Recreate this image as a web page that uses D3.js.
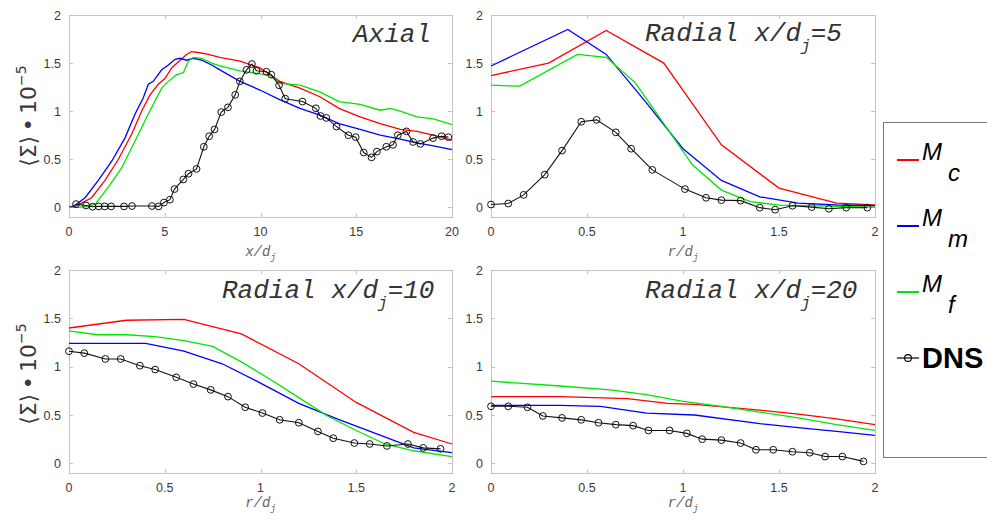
<!DOCTYPE html>
<html>
<head>
<meta charset="utf-8">
<script src="https://cdn.jsdelivr.net/npm/d3@7"></script>
<style>
  body { margin: 0; background: #fff; }
</style>
</head>
<body>
<svg id="chart" width="987" height="522"></svg>
<script>
// ---- data, [x, value] pairs ----
const axialMc = [[0,0],[0.31,0.01],[0.7,0.05],[1.18,0.1],[1.88,0.28],[2.58,0.5],[3.27,0.76],[3.79,1.0],[4.23,1.17],[4.66,1.28],[5.01,1.34],[5.36,1.45],[5.8,1.53],[6.14,1.59],[6.4,1.62],[6.75,1.61],[7.28,1.59],[7.88,1.56],[8.93,1.52],[9.97,1.45],[11.0,1.31],[12.06,1.24],[13.1,1.15],[14.1,1.03],[15.2,0.94],[16.25,0.87],[17.3,0.81],[18.17,0.79],[19.03,0.75],[20,0.70]];
const axialMm = [[0,0],[0.3,0.02],[0.84,0.10],[1.53,0.28],[2.23,0.48],[2.92,0.72],[3.45,0.97],[3.88,1.14],[4.14,1.28],[4.4,1.31],[4.84,1.43],[5.19,1.48],[5.54,1.54],[5.8,1.55],[6.14,1.53],[6.49,1.55],[6.93,1.53],[7.45,1.48],[7.88,1.43],[8.93,1.31],[9.97,1.22],[11.0,1.12],[12.06,1.03],[13.1,0.96],[14.1,0.87],[15.2,0.81],[16.25,0.75],[17.3,0.71],[18.17,0.67],[19.03,0.64],[20,0.60]];
const axialMf = [[0,0],[0.49,0.0],[0.9,0.01],[1.36,0.03],[2.05,0.21],[2.75,0.41],[3.45,0.69],[4.14,0.97],[4.84,1.24],[5.19,1.31],[5.62,1.38],[5.97,1.40],[6.23,1.52],[6.49,1.56],[6.93,1.55],[7.45,1.50],[7.88,1.47],[8.93,1.42],[9.97,1.39],[10.5,1.37],[11.0,1.29],[12.06,1.27],[13.1,1.20],[14.1,1.10],[15.2,1.07],[16.25,1.01],[16.77,1.03],[17.3,1.00],[18.17,0.94],[19.03,0.92],[20,0.86]];
const axialDns = [[0.37,0.034],[0.89,0.02],[1.23,0.007],[1.55,0.01],[1.86,0.01],[2.2,0.01],[2.87,0.01],[3.29,0.014],[4.33,0.014],[4.68,0.01],[4.96,0.05],[5.27,0.08],[5.51,0.19],[5.97,0.29],[6.24,0.35],[6.66,0.40],[7.04,0.63],[7.32,0.74],[7.6,0.81],[7.95,0.99],[8.3,1.04],[8.68,1.17],[8.92,1.31],[9.27,1.43],[9.55,1.49],[9.79,1.42],[10.31,1.41],[10.56,1.38],[10.97,1.27],[11.29,1.13],[12.19,1.10],[12.89,1.03],[13.13,0.95],[13.44,0.93],[13.97,0.84],[14.59,0.75],[14.97,0.73],[15.39,0.57],[15.8,0.52],[16.08,0.58],[16.57,0.63],[16.92,0.65],[17.17,0.75],[17.62,0.79],[17.97,0.68],[18.35,0.66],[19.01,0.72],[19.46,0.74],[19.81,0.73]];

const r5Mc = [[0,1.37],[0.3,1.50],[0.6,1.84],[0.9,1.50],[1.2,0.65],[1.5,0.2],[1.8,0.045],[2.0,0.025]];
const r5Mm = [[0,1.47],[0.4,1.85],[0.6,1.59],[0.8,1.11],[1.0,0.61],[1.2,0.28],[1.4,0.11],[1.6,0.045],[1.8,0.025],[2,0.017]];
const r5Mf = [[0,1.27],[0.15,1.26],[0.45,1.59],[0.6,1.56],[0.75,1.3],[0.9,0.87],[1.05,0.44],[1.2,0.18],[1.35,0.06],[1.5,0.024],[2,0.003]];
const r5Dns = [[0,0.03],[0.09,0.04],[0.17,0.13],[0.28,0.34],[0.37,0.59],[0.47,0.89],[0.55,0.91],[0.65,0.78],[0.73,0.61],[0.84,0.39],[1.01,0.19],[1.12,0.10],[1.2,0.075],[1.3,0.07],[1.4,-0.003],[1.48,-0.024],[1.57,0.017],[1.67,0.003],[1.76,-0.014],[1.85,-0.003],[1.96,-0.003]];

const r10Mc = [[0,1.40],[0.3,1.48],[0.6,1.49],[0.9,1.34],[1.2,1.03],[1.5,0.63],[1.8,0.32],[2,0.2]];
const r10Mm = [[0,1.24],[0.16,1.24],[0.4,1.24],[0.6,1.16],[0.8,1.03],[1.0,0.83],[1.2,0.62],[1.4,0.46],[1.6,0.31],[1.8,0.16],[2,0.11]];
const r10Mf = [[0,1.37],[0.15,1.33],[0.3,1.33],[0.45,1.31],[0.6,1.27],[0.75,1.21],[0.9,1.05],[1.05,0.87],[1.2,0.68],[1.35,0.49],[1.5,0.34],[1.65,0.2],[1.8,0.13],[2,0.07]];
const r10Dns = [[0,1.16],[0.08,1.14],[0.19,1.08],[0.27,1.08],[0.37,1.01],[0.45,0.97],[0.56,0.89],[0.65,0.82],[0.74,0.76],[0.83,0.69],[0.92,0.58],[1.01,0.52],[1.1,0.45],[1.2,0.42],[1.3,0.33],[1.38,0.26],[1.49,0.21],[1.57,0.2],[1.66,0.18],[1.77,0.2],[1.85,0.16],[1.94,0.15]];

const r20Mc = [[0,0.69],[0.36,0.69],[0.71,0.67],[0.92,0.62],[1.06,0.61],[1.4,0.55],[1.6,0.51],[1.8,0.46],[2,0.40]];
const r20Mm = [[0,0.60],[0.36,0.60],[0.57,0.59],[0.81,0.52],[1.06,0.50],[1.4,0.41],[1.6,0.37],[1.8,0.33],[2,0.29]];
const r20Mf = [[0,0.85],[0.36,0.80],[0.62,0.76],[0.81,0.71],[1.0,0.64],[1.2,0.59],[1.4,0.53],[1.6,0.47],[1.8,0.40],[2,0.34]];
const r20Dns = [[0,0.59],[0.09,0.59],[0.19,0.58],[0.27,0.49],[0.37,0.47],[0.47,0.45],[0.56,0.42],[0.65,0.40],[0.74,0.39],[0.82,0.34],[0.93,0.34],[1.02,0.31],[1.1,0.25],[1.2,0.24],[1.3,0.21],[1.38,0.14],[1.47,0.14],[1.57,0.12],[1.66,0.11],[1.74,0.07],[1.83,0.07],[1.94,0.02]];

const yTicks = [0, 0.5, 1, 1.5, 2];
const axialTicks = [0, 5, 10, 15, 20];
const radialTicks = [0, 0.5, 1, 1.5, 2];
const seriesNames = ['Mc', 'Mm', 'Mf', 'DNS'];
const legendSubs = ['c', 'm', 'f'];

const colors = {Mc: '#ff0000', Mm: '#0000ff', Mf: '#00e600', DNS: '#000'};

const svg = d3.select('#chart');

const panels = [
  {title: 'Axial', where: null, xDom: [0, 20], ticks: axialTicks, xVar: 'x',
   left: 69, right: 452, top: 15, bottom: 217, tx: 353, ty: 42, yLab: 116,
   data: {Mc: axialMc, Mm: axialMm, Mf: axialMf, DNS: axialDns}},
  {title: 'Radial x/d', where: '=5', xDom: [0, 2], ticks: radialTicks, xVar: 'r',
   left: 491, right: 875, top: 15, bottom: 217, tx: 645, ty: 41, yLab: null,
   data: {Mc: r5Mc, Mm: r5Mm, Mf: r5Mf, DNS: r5Dns}},
  {title: 'Radial x/d', where: '=10', xDom: [0, 2], ticks: radialTicks, xVar: 'r',
   left: 69, right: 452, top: 270, bottom: 473, tx: 222, ty: 298, yLab: 374,
   data: {Mc: r10Mc, Mm: r10Mm, Mf: r10Mf, DNS: r10Dns}},
  {title: 'Radial x/d', where: '=20', xDom: [0, 2], ticks: radialTicks, xVar: 'r',
   left: 491, right: 875, top: 270, bottom: 473, tx: 645, ty: 298, yLab: null,
   data: {Mc: r20Mc, Mm: r20Mm, Mf: r20Mf, DNS: r20Dns}}
];

const boxColor = '#c4c4c4';
const textColor = '#3a3a3a';

panels.forEach(p => {
  const x = d3.scaleLinear().domain(p.xDom).range([p.left, p.right]);
  const y = d3.scaleLinear().domain([-0.1, 2]).range([p.bottom, p.top]);
  const g = svg.append('g');

  // box
  g.append('rect')
    .attr('x', p.left + 0.5).attr('y', p.top + 0.5)
    .attr('width', p.right - p.left).attr('height', p.bottom - p.top)
    .attr('fill', 'none').attr('stroke', boxColor);

  // inward ticks on all four sides
  const tl = 4;
  p.ticks.forEach(t => {
    const xx = Math.round(x(t)) + 0.5;
    g.append('line').attr('x1', xx).attr('x2', xx).attr('y1', p.bottom).attr('y2', p.bottom - tl).attr('stroke', boxColor);
    g.append('line').attr('x1', xx).attr('x2', xx).attr('y1', p.top).attr('y2', p.top + tl).attr('stroke', boxColor);
    g.append('text').attr('x', x(t)).attr('y', p.bottom + 19)
      .attr('text-anchor', 'middle').attr('font-family', 'Liberation Sans, Arial, sans-serif')
      .attr('font-size', 12.5).attr('fill', textColor).text(t);
  });
  yTicks.forEach(t => {
    const yy = Math.round(y(t)) + 0.5;
    g.append('line').attr('x1', p.left).attr('x2', p.left + tl).attr('y1', yy).attr('y2', yy).attr('stroke', boxColor);
    g.append('line').attr('x1', p.right).attr('x2', p.right - tl).attr('y1', yy).attr('y2', yy).attr('stroke', boxColor);
    g.append('text').attr('x', p.left - 8).attr('y', y(t)).attr('dy', '0.36em')
      .attr('text-anchor', 'end').attr('font-family', 'Liberation Sans, Arial, sans-serif')
      .attr('font-size', 12.5).attr('fill', textColor).text(t);
  });

  // curves
  const line = d3.line().x(d => x(d[0])).y(d => y(d[1]));
  ['Mc', 'Mm', 'Mf'].forEach(k => {
    g.append('path').datum(p.data[k])
      .attr('d', line).attr('fill', 'none')
      .attr('stroke', colors[k]).attr('stroke-width', 1.3);
  });
  g.append('path').datum(p.data.DNS)
    .attr('d', line).attr('fill', 'none')
    .attr('stroke', '#111').attr('stroke-width', 1.1);
  g.selectAll('circle.dns').data(p.data.DNS).enter().append('circle')
    .attr('class', 'dns')
    .attr('cx', d => x(d[0])).attr('cy', d => y(d[1])).attr('r', 3.4)
    .attr('fill', 'none').attr('stroke', '#111').attr('stroke-width', 1);

  // title
  const tt = g.append('text').attr('x', p.tx).attr('y', p.ty)
    .attr('font-family', 'Liberation Mono, Courier New, monospace')
    .attr('font-style', 'italic').attr('font-size', 26).attr('fill', '#333');
  tt.append('tspan').text(p.title);
  if (p.where) {
    tt.append('tspan').attr('font-size', 16).attr('dy', 10).text('j');
    tt.append('tspan').attr('dy', -10).text(p.where);
  }

  // x-axis label
  const xl = g.append('text').attr('x', (p.left + p.right) / 2)
    .attr('y', p.top === 15 ? 256 : 507)
    .attr('text-anchor', 'middle')
    .attr('font-family', 'Liberation Mono, Courier New, monospace')
    .attr('font-style', 'italic').attr('font-size', 14).attr('fill', '#666');
  xl.append('tspan').text(p.xVar + '/d');
  xl.append('tspan').attr('font-size', 9).attr('dy', 4).text('j');

  // y-axis label
  if (p.yLab) {
    const yl = g.append('text')
      .attr('transform', 'translate(36,' + p.yLab + ') rotate(-90)')
      .attr('text-anchor', 'middle')
      .attr('font-family', 'DejaVu Sans, sans-serif')
      .attr('font-size', 22).attr('fill', textColor);
    yl.append('tspan').text('\u27E8\u03A3\u27E9\u2009\u2022\u200910');
    yl.append('tspan').attr('font-size', 14).attr('dy', -10).text('\u22125');
  }
});

// legend
const lg = svg.append('g');
lg.append('rect').attr('x', 883.5).attr('y', 122.5).attr('width', 120).attr('height', 335)
  .attr('fill', '#fff').attr('stroke', '#7a7a7a');
const legY = [160, 226, 292, 358];
seriesNames.forEach((k, i) => {
  lg.append('line').attr('x1', 897).attr('x2', 919).attr('y1', legY[i]).attr('y2', legY[i])
    .attr('stroke', colors[k]).attr('stroke-width', k === 'DNS' ? 1.2 : 2);
  if (k === 'DNS') {
    lg.append('circle').attr('cx', 908).attr('cy', legY[i]).attr('r', 3.4)
      .attr('fill', 'none').attr('stroke', '#000').attr('stroke-width', 1.1);
    lg.append('text').attr('x', 922).attr('y', legY[i] + 10)
      .attr('font-family', 'Liberation Sans, Arial, sans-serif').attr('font-weight', 'bold')
      .attr('font-size', 29).attr('fill', '#000').text('DNS');
  } else {
    const t = lg.append('text').attr('x', 922).attr('y', legY[i])
      .attr('font-family', 'Liberation Sans, Arial, sans-serif').attr('font-style', 'italic')
      .attr('font-size', 24).attr('fill', '#000');
    t.append('tspan').text('M');
    t.append('tspan').attr('dx', 6).attr('dy', 21).text(legendSubs[i]);
  }
});
</script>
</body>
</html>
